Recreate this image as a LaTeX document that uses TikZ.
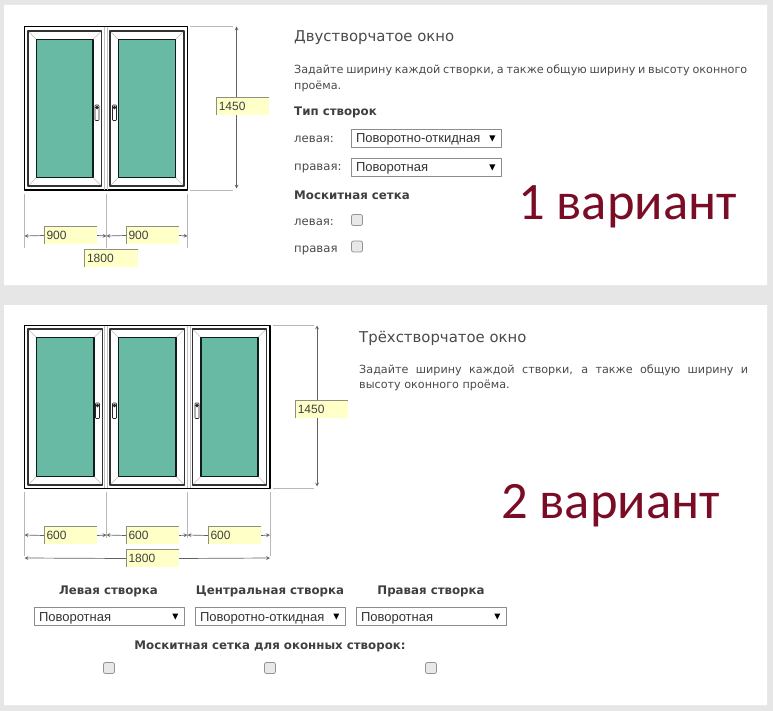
\documentclass[tikz,border=0pt]{standalone}
\usepackage{fontspec}
\setmainfont{DejaVu Sans}
\newfontfamily\arialfont{Liberation Sans}
\newfontfamily\bigfont{Carlito}
\definecolor{pagegray}{HTML}{E6E6E6}
\definecolor{glasscol}{HTML}{68BAA5}
\definecolor{inputcol}{HTML}{FFFFC8}
\definecolor{inputedge}{HTML}{8F8F80}
\definecolor{textcol}{HTML}{4A4A4A}
\definecolor{variantcol}{HTML}{7A0C26}
\tikzset{
	heading/.style={anchor=base west,inner sep=0pt,text=textcol,font=\fontsize{14.9}{17}\selectfont},
	bodytext/.style={anchor=base west,inner sep=0pt,text=textcol,font=\fontsize{11.2}{15.7}\selectfont},
	fieldtext/.style={bodytext,font=\fontsize{11.7}{14}\selectfont},
	strongtext/.style={inner sep=0pt,text=textcol!85!black,font=\fontsize{11.8}{14}\selectfont\bfseries},
	sizebox/.style={fill=inputcol,minimum width=52.5,minimum height=17.5,inner xsep=2,inner ysep=0,text width=48.5,align=left,text=black!75,font=\fontsize{12}{14}\selectfont\arialfont},
	selectbox/.style={draw=black!45,fill=white,line width=.7,minimum width=150,minimum height=18,inner xsep=4.5,inner ysep=0,text width=141,text height=12,text depth=3,align=left,text=black!80,font=\fontsize{13}{15}\selectfont\arialfont},
	checkbox/.style={draw=black!42,fill=black!9,line width=.8,rounded corners=2,minimum size=11,inner sep=0},
	variant/.style={anchor=base west,inner sep=0pt,text=variantcol,font=\fontsize{52.6}{55}\selectfont\bigfont},
	dimline/.style={black!62,line width=.7},
	witness/.style={black!28,line width=.6},
}
\begin{document}
\begin{tikzpicture}[x=1pt,y=-1pt,line join=round,>=stealth]
	\fill[pagegray] (0,0) rectangle (773,711);
	\useasboundingbox (0,0) rectangle (773,711);
	\fill[white] (4,5) rectangle (767,285) (4,305) rectangle (767,705);
	% window frames
	\draw[black,line width=1.3] (24.5,26.5) rectangle (187.5,190) (24.5,325.5) rectangle (270,488.5);
	\draw[black!25,line width=.5] (104.5,27)--(104.5,190) (107.5,27)--(107.5,190)
	(104.5,326)--(104.5,488) (107.5,326)--(107.5,488) (187,326)--(187,488) (190,326)--(190,488);
	% sashes: left/right/top/bottom/handle
	\foreach \xa/\xb/\ya/\yb/\hx in {28/101.5/31/186/97, 110/184/31/186/114.5,
		28/102.5/329/485/97.5, 110/184.5/329/485/114.5, 192.5/266.5/329/485/197}{
		\draw[black!25,line width=.6] (\xa,\ya)--(\xa+8.5,\ya+8.5) (\xb,\ya)--(\xb-8.5,\ya+8.5)
		(\xa,\yb)--(\xa+8.5,\yb-8.5) (\xb,\yb)--(\xb-8.5,\yb-8.5);
		\draw[black!80,line width=1.3] (\xa,\ya) rectangle (\xb,\yb);
		\draw[black!85!glasscol,fill=glasscol,line width=1.3] (\xa+8.5,\ya+8.5) rectangle (\xb-8.5,\yb-8.5);
		\draw[black!85,fill=white,line width=.6,rounded corners=.8] (\hx-2,\ya+74) rectangle (\hx+2,\ya+89.5);
		\fill[black!85] (\hx,\ya+76.5) circle(1.8);
	}
	% witness lines
	\draw[witness] (190,26.5)--(233,26.5) (190,190)--(233,190)
	(24.5,194)--(24.5,248) (106.5,194)--(106.5,248) (187.5,194)--(187.5,248)
	(273,325.5)--(314,325.5) (273,488.5)--(314,488.5)
	(24.5,492)--(24.5,556) (106.5,492)--(106.5,538) (187.5,492)--(187.5,538) (270,492)--(270,556);
	% first window, sizes
	\node[sizebox] (hightA) at (243,106.5) {1450};
	\node[sizebox] (leftA) at (70.75,235.5) {900};
	\node[sizebox] (rightA) at (152.75,235.5) {900};
	\node[sizebox] (totalA) at (111.25,258.5) {1800};
	\coordinate (topA) at (236.5,26.5);
	\coordinate (botA) at (236.5,188.5);
	\coordinate (p1A) at (24.5,236);
	\coordinate (p2A) at (106.5,236);
	\coordinate (p3A) at (187.5,236);
	\draw[dimline,<-] (topA)--(topA|-hightA.north);
	\draw[dimline,<-] (botA)--(botA|-hightA.south);
	\draw[dimline,<-] (p1A)--(leftA.west);
	\draw[dimline,<-] (p2A)--(leftA.east);
	\draw[dimline,<-] (p2A)--(rightA.west);
	\draw[dimline,<-] (p3A)--(rightA.east);
	% second window, sizes
	\node[sizebox] (hightB) at (322,409.5) {1450};
	\node[sizebox] (leftB) at (70.75,535.5) {600};
	\node[sizebox] (midB) at (152.75,535.5) {600};
	\node[sizebox] (rightB) at (234.75,535.5) {600};
	\node[sizebox] (totalB) at (152.75,558.5) {1800};
	\coordinate (topB) at (317,325.5);
	\coordinate (botB) at (317,486.5);
	\coordinate (p1B) at (24.5,535);
	\coordinate (p2B) at (106.5,535);
	\coordinate (p3B) at (187.5,535);
	\coordinate (p4B) at (270,535);
	\coordinate (q1B) at (24.5,558);
	\coordinate (q2B) at (270,558);
	\draw[dimline,<-] (topB)--(topB|-hightB.north);
	\draw[dimline,<-] (botB)--(botB|-hightB.south);
	\draw[dimline,<-] (p1B)--(leftB.west);
	\draw[dimline,<-] (p2B)--(leftB.east);
	\draw[dimline,<-] (p2B)--(midB.west);
	\draw[dimline,<-] (p3B)--(midB.east);
	\draw[dimline,<-] (p3B)--(rightB.west);
	\draw[dimline,<-] (p4B)--(rightB.east);
	\draw[dimline,<-] (q1B)--(totalB.west);
	\draw[dimline,<-] (q2B)--(totalB.east);
	\foreach \n in {hightA,leftA,rightA,totalA,hightB,leftB,midB,rightB,totalB}
	\draw[inputedge,line width=1] (\n.south west)--(\n.north west)--(\n.north east);
	% first form
	\node[heading] (titleA) at (294,42) {Двустворчатое окно};
	\node[bodytext,text width=453,align=justify] (introA) at (294,74) {Задайте ширину каждой створки, а также общую ширину и высоту оконного\linebreak проёма.};
	\node[strongtext,anchor=base west] (typeA) at (294,116) {Тип створок};
	\node[fieldtext] (lblLeftA) at (294,143) {левая:};
	\node[fieldtext] (lblRightA) at (294,171) {правая:};
	\node[strongtext,anchor=base west] (netA) at (294,200) {Москитная сетка};
	\node[fieldtext] (lblNetLeftA) at (294,226) {левая:};
	\node[fieldtext] (lblNetRightA) at (294,252) {правая};
	\node[selectbox] (selLeftA) at (426.5,138.5) {Поворотно-откидная};
	\node[selectbox] (selRightA) at (426.5,167.5) {Поворотная};
	\node[checkbox] (chkLeftA) at (357,220) {};
	\node[checkbox] (chkRightA) at (357,246.5) {};
	\node[variant] (variantA) at (518,220) {1 вариант};
	% second form
	\node[heading] (titleB) at (359,342) {Трёхстворчатое окно};
	\node[bodytext,text width=389,align=justify] (introB) at (359,373) {Задайте ширину каждой створки, а также общую ширину и\linebreak высоту оконного проёма.};
	\node[variant] (variantB) at (501,518) {2 вариант};
	\node[strongtext,anchor=base] (lblLeftB) at (108.5,594) {Левая створка};
	\node[strongtext,anchor=base] (lblMidB) at (270,594) {Центральная створка};
	\node[strongtext,anchor=base] (lblRightB) at (431,594) {Правая створка};
	\node[selectbox] (selLeftB) at (109.5,616.5) {Поворотная};
	\node[selectbox] (selMidB) at (270.5,616.5) {Поворотно-откидная};
	\node[selectbox] (selRightB) at (431.5,616.5) {Поворотная};
	\node[strongtext,anchor=base] (netB) at (270,649) {Москитная сетка для оконных створок:};
	\foreach \n/\x in {chkLeftB/109,chkMidB/270,chkRightB/431}
	\node[checkbox] (\n) at (\x,668) {};
	% select arrows
	\foreach \n in {selLeftA,selRightA,selLeftB,selMidB,selRightB}
	\fill[black] (\n.east) ++(-12.5,-3) -- ++(6,0) -- ++(-3,6) -- cycle;
\end{tikzpicture}
\end{document}
